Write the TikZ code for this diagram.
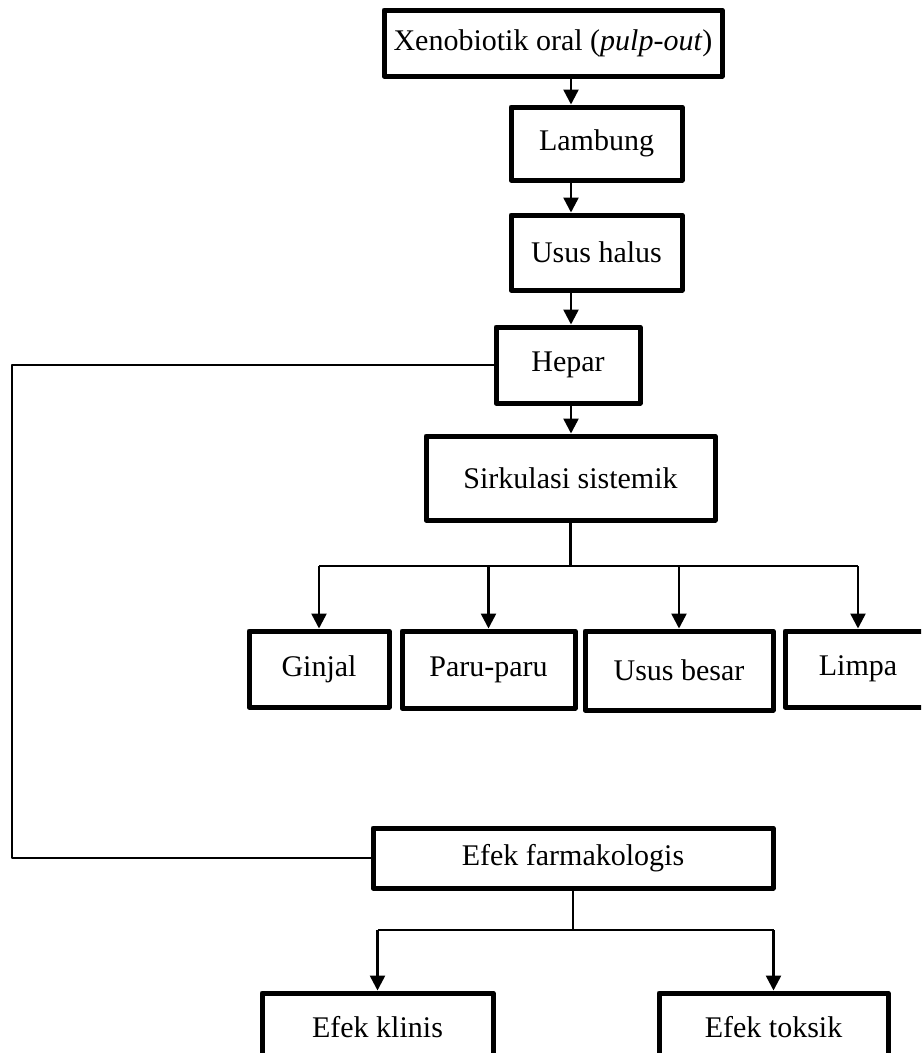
\documentclass[tikz,border=0pt]{standalone}
\usepackage{fontspec}
\setmainfont{Liberation Serif}
\usetikzlibrary{arrows.meta}
\begin{document}
\begin{tikzpicture}[x=0.4pt,y=-0.4pt,>={Triangle[width=6pt,length=6pt]},line join=round,
	kotak/.style={draw,line width=2pt,fill=white,inner sep=0pt,font=\fontsize{12}{14}\selectfont},
	panah/.style={->,line width=1pt},
	garis/.style={line width=0.8pt}]
	\clip (0,0) rectangle (921,1053);
	\def\u{0.4pt}
	% jalur utama
	\node[kotak,minimum width=338*\u,minimum height=66*\u] (xeno) at (553,43) {Xenobiotik oral (\textit{pulp-out})};
	\node[kotak,minimum width=171*\u,minimum height=73*\u] (lambung) at (596.5,143.5) {Lambung};
	\node[kotak,minimum width=171*\u,minimum height=75*\u] (halus) at (596.5,252.5) {Usus halus};
	\node[kotak,minimum width=144*\u,minimum height=76*\u] (hepar) at (568,365) {Hepar};
	\node[kotak,minimum width=289*\u,minimum height=84*\u] (sirk) at (570.5,478) {Sirkulasi sistemik};
	% organ
	\node[kotak,minimum width=140*\u,minimum height=76*\u] (ginjal) at (319,669) {Ginjal};
	\node[kotak,minimum width=173*\u,minimum height=77*\u] (paru) at (488.5,669.5) {Paru-paru};
	\node[kotak,minimum width=188*\u,minimum height=79*\u] (besar) at (679,670.5) {Usus besar};
	\node[kotak,minimum width=146*\u,minimum height=76*\u] (limpa) at (858,669) {Limpa};
	% efek
	\node[kotak,minimum width=400*\u,minimum height=60*\u] (farma) at (573,858) {Efek farmakologis};
	\node[kotak,minimum width=231*\u,minimum height=68*\u] (klinis) at (377.5,1027) {Efek klinis};
	\node[kotak,minimum width=229*\u,minimum height=68*\u] (toksik) at (773.5,1027) {Efek toksik};
	\path
	(571,0) coordinate (tulang)
	(0,566) coordinate (bus_1)
	(0,930) coordinate (bus_2)
	(12,0) coordinate (kiri)
	;
	\draw[panah] (xeno.south -| tulang)--(lambung.north -| tulang);
	\draw[panah] (lambung.south -| tulang)--(halus.north -| tulang);
	\draw[panah] (halus.south -| tulang)--(hepar.north -| tulang);
	\draw[panah] (hepar.south -| tulang)--(sirk.north -| tulang);
	\draw[line width=1pt]
	(sirk.south)--(sirk.south |- bus_1)
	(ginjal.north |- bus_1)--(limpa.north |- bus_1)
	(farma.south)--(farma.south |- bus_2)
	(klinis.north |- bus_2)--(toksik.north |- bus_2)
	;
	\foreach \n in {ginjal,paru,besar,limpa} \draw[panah] (\n.north |- bus_1)--(\n.north);
	\foreach \n in {klinis,toksik} \draw[panah] (\n.north |- bus_2)--(\n.north);
	\draw[garis] (hepar.west)--(hepar.west -| kiri) |- (farma.west);
\end{tikzpicture}
\end{document}
